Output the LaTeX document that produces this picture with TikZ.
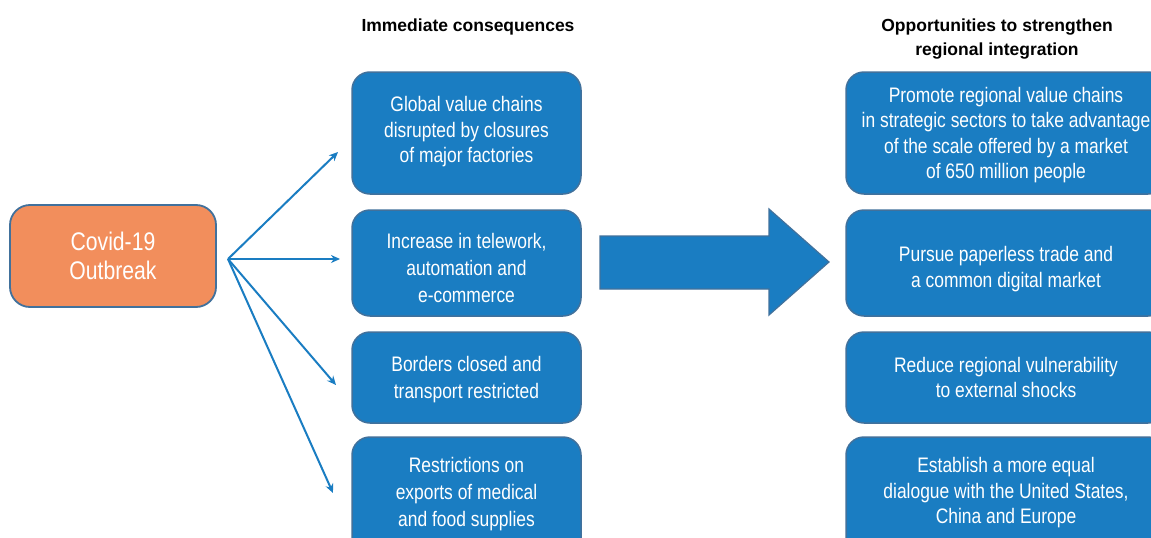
\documentclass[tikz,border=0pt]{standalone}
\usepackage{fontspec}
\usetikzlibrary{arrows.meta}
\setmainfont{Liberation Sans}
\newfontfamily\narrowfont[FakeStretch=0.83]{Liberation Sans}
\definecolor{boxblue}{RGB}{26,125,194}
\definecolor{edgeblue}{RGB}{65,113,156}
\definecolor{orangefill}{RGB}{242,142,92}
\tikzset{
  bluebox/.style={draw=edgeblue, line width=1.5pt, fill=boxblue, rounded corners=18pt, inner sep=0pt},
  boxtext/.style={text=white, align=center, inner sep=0pt,
    font=\narrowfont\fontsize{21}{25.5}\selectfont},
  widetext/.style={text=white, align=center, inner sep=0pt,
    font=\narrowfont\fontsize{21}{27}\selectfont},
  covidbox/.style={draw=edgeblue, line width=1.8pt, fill=orangefill, rounded corners=20pt,
    text=white, align=center, inner sep=0pt,
    font=\narrowfont\fontsize{25.5}{29}\selectfont},
  heading/.style={align=center, font=\bfseries\fontsize{17.5}{24}\selectfont, text=black},
  link/.style={draw=boxblue, line width=2pt, -{Stealth[length=9pt,width=8pt]}},
}
\begin{document}
\begin{tikzpicture}[x=1pt,y=-1pt]
\useasboundingbox (0,0) rectangle (1151,538);
\fill[white] (0,0) rectangle (1151,538);

\node[heading] (h1) at (468,27) {Immediate consequences};
\node[heading] (h2) at (997,39) {Opportunities to strengthen\\regional integration};

\node[covidbox, minimum width=206pt, minimum height=102pt] (covid) at (113,256) {Covid-19\\Outbreak};

\node[bluebox, minimum width=229pt, minimum height=122pt] (l1) at (466.5,133) {};
\node[bluebox, minimum width=229pt, minimum height=106pt] (l2) at (466.5,263) {};
\node[bluebox, minimum width=229pt, minimum height=91pt] (l3) at (466.5,377.5) {};
\node[bluebox, minimum width=229pt, minimum height=122pt] (l4) at (466.5,498) {};
\node[boxtext] (l1t) at ([yshift=1pt]l1.center) {Global value chains\\disrupted by closures\\of major factories};
\node[widetext] (l2t) at ([yshift=-4.5pt]l2.center) {Increase in telework,\\automation and\\e-commerce};
\node[widetext] (l3t) at ([yshift=-2pt]l3.center) {Borders closed and\\transport restricted};
\node[widetext] (l4t) at ([yshift=3.5pt]l4.center) {Restrictions on\\exports of medical\\and food supplies};

\node[bluebox, minimum width=320pt, minimum height=122pt] (r1) at (1006,133) {};
\node[bluebox, minimum width=320pt, minimum height=106pt] (r2) at (1006,263) {};
\node[bluebox, minimum width=320pt, minimum height=91pt] (r3) at (1006,377.5) {};
\node[bluebox, minimum width=320pt, minimum height=122pt] (r4) at (1006,498) {};
\node[boxtext] (r1t) at ([yshift=-2pt]r1.center) {Promote regional value chains\\in strategic sectors to take advantage\\of the scale offered by a market\\of 650 million people};
\node[boxtext] (r2t) at ([yshift=-6pt]r2.center) {Pursue paperless trade and\\a common digital market};
\node[boxtext] (r3t) at (r3.center) {Reduce regional vulnerability\\to external shocks};
\node[boxtext] (r4t) at ([yshift=5pt]r4.center) {Establish a more equal\\dialogue with the United States,\\China and Europe};

\coordinate (src) at (228,259);
\coordinate (e1) at (338,152);
\coordinate (e2) at (340,259);
\coordinate (e3) at (336,385);
\coordinate (e4) at (333,493);
\draw[link] (src) -- (e1);
\draw[link] (src) -- (e2);
\draw[link] (src) -- (e3);
\draw[link] (src) -- (e4);

\draw[draw=edgeblue, line width=1.2pt, fill=boxblue, line join=miter]
  (600,236) -- (769,236) -- (769,209) -- (829,262) -- (769,315) -- (769,289) -- (600,289) -- cycle;
\end{tikzpicture}
\end{document}
